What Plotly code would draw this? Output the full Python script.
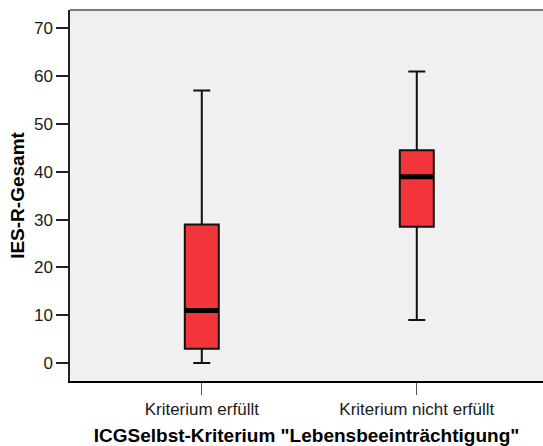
import plotly.graph_objects as go

# Group labels and box-plot statistics for IES-R total score
categories = ["Kriterium erfüllt", "Kriterium nicht erfüllt"]
positions = [0, 1]
lower_whisker = [0, 9]
q1 = [3, 28.5]
median = [11, 39]
q3 = [29, 44.5]
upper_whisker = [57, 61]
y_ticks = [0, 10, 20, 30, 40, 50, 60, 70]

box_width = 0.158
fill = "#F2353B"
font_family = "Liberation Sans, Arial, sans-serif"

fig = go.Figure()
for i, cat in enumerate(categories):
    fig.add_trace(go.Box(
        x=[positions[i]],
        q1=[q1[i]], median=[median[i]], q3=[q3[i]],
        lowerfence=[lower_whisker[i]], upperfence=[upper_whisker[i]],
        width=box_width, whiskerwidth=0.5,
        fillcolor=fill,
        line=dict(color="#111111", width=2),
        name=cat, showlegend=False, hoverinfo="skip",
    ))

# Heavy median bars
shapes = []
for i in range(len(categories)):
    shapes.append(dict(
        type="line", xref="x", yref="y",
        x0=positions[i] - box_width / 2, x1=positions[i] + box_width / 2,
        y0=median[i], y1=median[i],
        line=dict(color="black", width=5),
    ))
# Grey frame line along the top of the plot area
shapes.append(dict(
    type="line", xref="paper", yref="paper", x0=0, x1=1, y0=1, y1=1,
    line=dict(color="#7a7a7a", width=2),
))
fig.update_layout(shapes=shapes)

fig.update_layout(
    width=543, height=446,
    margin=dict(l=70, r=0, t=10, b=65),
    paper_bgcolor="white",
    plot_bgcolor="#F0F0F0",
    font=dict(family=font_family, size=17, color="#1a1a1a"),
    xaxis=dict(
        range=[-0.613, 1.587],
        tickmode="array", tickvals=positions, ticktext=categories,
        ticks="outside", ticklen=12, tickwidth=1, tickcolor="#555555",
        showline=True, linecolor="black", linewidth=2,
        showgrid=False, zeroline=False,
        tickfont=dict(size=17),
        title=dict(text='<b>ICGSelbst-Kriterium "Lebensbeeinträchtigung"</b>',
                   font=dict(size=19, color="black"), standoff=10),
    ),
    yaxis=dict(
        range=[-3.77, 73.87],
        tickmode="array", tickvals=y_ticks,
        ticks="outside", ticklen=12, tickwidth=1.5, tickcolor="#222222",
        showline=True, linecolor="#222222", linewidth=1.5,
        showgrid=False, zeroline=False,
        tickfont=dict(size=17),
        title=dict(text="<b>IES-R-Gesamt</b>",
                   font=dict(size=19, color="black"), standoff=4),
    ),
)

fig.write_html("out.html")
